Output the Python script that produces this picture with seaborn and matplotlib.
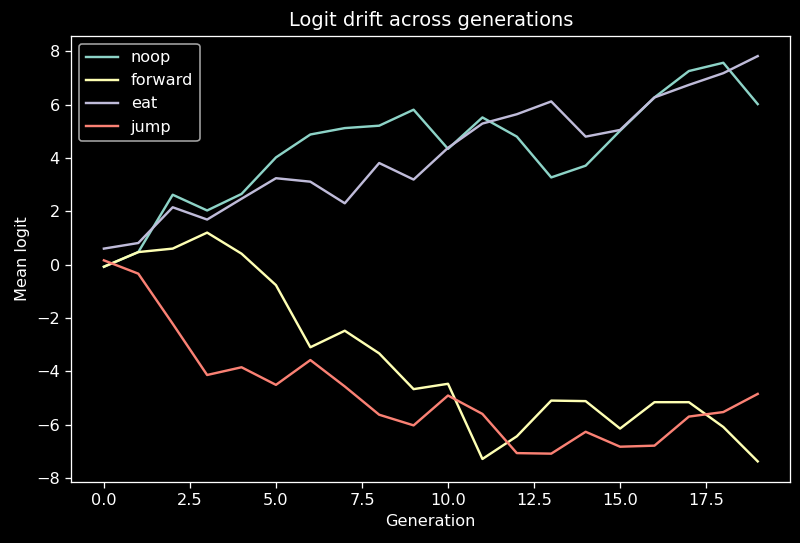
import pandas as pd
import matplotlib
matplotlib.use('Agg')
import matplotlib.pyplot as plt
import seaborn as sns

generations = list(range(20))
noop = [-0.08, 0.47, 2.62, 2.03, 2.65, 4.02, 4.88, 5.12, 5.21, 5.81,
        4.34, 5.52, 4.80, 3.27, 3.71, 5.02, 6.27, 7.26, 7.57, 6.02]
forward = [-0.08, 0.47, 0.60, 1.20, 0.41, -0.77, -3.10, -2.48, -3.33, -4.67,
           -4.47, -7.29, -6.44, -5.10, -5.12, -6.15, -5.16, -5.16, -6.09, -7.38]
eat = [0.60, 0.81, 2.15, 1.69, 2.47, 3.24, 3.11, 2.30, 3.81, 3.19,
       4.38, 5.29, 5.64, 6.12, 4.80, 5.05, 6.27, 6.74, 7.18, 7.82]
jump = [0.16, -0.34, -2.22, -4.14, -3.85, -4.51, -3.58, -4.57, -5.63, -6.03,
        -4.91, -5.60, -7.07, -7.09, -6.27, -6.83, -6.79, -5.70, -5.53, -4.85]

actions = {'noop': noop, 'forward': forward, 'eat': eat, 'jump': jump}

def main():
    rows = []
    for name, vals in actions.items():
        for g, v in zip(generations, vals):
            rows.append({'Generation': g, 'Mean logit': v, 'action': name})
    df = pd.DataFrame(rows)

    plt.style.use('dark_background')
    dpi = 116
    fig, ax = plt.subplots(figsize=(800 / dpi, 543 / dpi), dpi=dpi)
    fig.subplots_adjust(left=0.089, right=0.988, top=0.934, bottom=0.113)

    sns.lineplot(data=df, x='Generation', y='Mean logit', hue='action',
                 palette=['#8dd3c7', '#feffb3', '#bfbbd9', '#fa8174'],
                 linewidth=1.5, ax=ax)
    ax.legend(loc='upper left')
    ax.set_title('Logit drift across generations')
    ax.set_xlabel('Generation')
    ax.set_ylabel('Mean logit')

    fig.savefig('out.png', dpi=dpi)
    plt.close(fig)

if __name__ == "__main__":
    main()
